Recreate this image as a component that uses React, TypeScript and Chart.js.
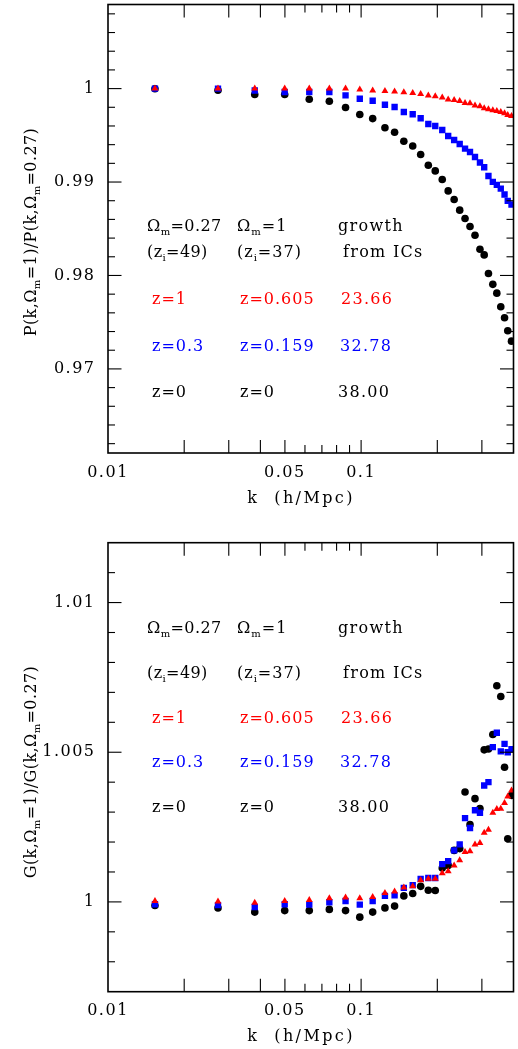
import React, { useEffect, useRef } from 'react';
import { Chart, registerables } from 'chart.js';

Chart.register(...registerables);

// ---------- data ----------
const kBins = [0.01533, 0.0272, 0.038, 0.0499, 0.0624, 0.0749, 0.0868, 0.0988, 0.1111, 0.1242, 0.1356, 0.1475, 0.1599, 0.1719, 0.1843, 0.1963, 0.2092, 0.2208, 0.2331, 0.2452, 0.2574, 0.2693, 0.2818, 0.2948, 0.3064, 0.3185, 0.3314, 0.3437, 0.3563, 0.3687, 0.3796, 0.3928];

// P(k) ratio, top panel
const pRatioZ1 = [1.0, 1.0, 1.0, 1.0, 1.0, 1.0, 1.0, 0.9999, 0.9998, 0.99975, 0.9997, 0.9996, 0.99954, 0.99943, 0.99926, 0.99918, 0.99904, 0.99883, 0.99879, 0.99868, 0.99847, 0.99843, 0.99819, 0.99811, 0.9979, 0.99779, 0.99769, 0.99761, 0.9975, 0.99737, 0.99718, 0.99708];
const pRatioZ03 = [1.0, 1.0, 0.9998, 0.99964, 0.99964, 0.99964, 0.99928, 0.99891, 0.9987, 0.99827, 0.99803, 0.9975, 0.99725, 0.99682, 0.99621, 0.996, 0.99557, 0.99493, 0.9945, 0.99407, 0.99358, 0.99321, 0.99268, 0.99209, 0.99158, 0.99065, 0.99001, 0.98969, 0.9893, 0.98866, 0.98799, 0.98759];
const pRatioZ0 = [0.99998, 0.99982, 0.99936, 0.99936, 0.99886, 0.99864, 0.99797, 0.99722, 0.99679, 0.99581, 0.99533, 0.99436, 0.99386, 0.99294, 0.9918, 0.99119, 0.99027, 0.98905, 0.98813, 0.98699, 0.9861, 0.98524, 0.98431, 0.98281, 0.9822, 0.98021, 0.97905, 0.97811, 0.97666, 0.97547, 0.97408, 0.97297];

// G(k) ratio, bottom panel
const gRatioZ1 = [1.00003, 1.00001, 0.99997, 1.00003, 1.00006, 1.00012, 1.00015, 1.00012, 1.00016, 1.0003, 1.00035, 1.00048, 1.00052, 1.00072, 1.00077, 1.00077, 1.00096, 1.00102, 1.00122, 1.00139, 1.00167, 1.00169, 1.00192, 1.00197, 1.00231, 1.00241, 1.00298, 1.0031, 1.00311, 1.0033, 1.00352, 1.00372];
const gRatioZ03 = [0.99992, 0.99989, 0.99983, 0.99992, 0.99991, 0.99999, 1.00003, 0.99991, 1.00003, 1.0002, 1.00022, 1.00047, 1.00056, 1.00077, 1.0008, 1.0008, 1.00126, 1.00136, 1.00172, 1.00192, 1.0028, 1.00247, 1.00306, 1.00298, 1.00389, 1.004, 1.00517, 1.00565, 1.00503, 1.00528, 1.005, 1.0051];
const gRatioZ0 = [0.99988, 0.9998, 0.99966, 0.99971, 0.99971, 0.99975, 0.99971, 0.99949, 0.99966, 0.9998, 0.99986, 1.0002, 1.00028, 1.00052, 1.00039, 1.00038, 1.00113, 1.00122, 1.00172, 1.00178, 1.00367, 1.00258, 1.00345, 1.00312, 1.00508, 1.00511, 1.00559, 1.00722, 1.00686, 1.0045, 1.00211, 1.00356];

// ticks
const xLabelValues = [0.01, 0.05, 0.1];
const xLabelTexts = ['0.01', '0.05', '0.1'];
const xMajorTicks = [0.02, 0.03, 0.04, 0.05, 0.1, 0.2, 0.3];
const xMinorTicks = [0.06, 0.07, 0.08, 0.09];

const pYLabelValues = [0.97, 0.98, 0.99, 1];
const pYLabelTexts = ['0.97', '0.98', '0.99', '1'];
const pYMinorTicks = [0.962, 0.964, 0.966, 0.968, 0.972, 0.974, 0.976, 0.978, 0.982, 0.984, 0.986, 0.988, 0.992, 0.994, 0.996, 0.998, 1.002, 1.004, 1.006, 1.008];

const gYLabelValues = [1, 1.005, 1.01];
const gYLabelTexts = ['1', '1.005', '1.01'];
const gYMinorTicks = [0.998, 0.999, 1.001, 1.002, 1.003, 1.004, 1.006, 1.007, 1.008, 1.009, 1.011];

// annotation table
const colOmega = ['Ω_{m}=0.27', '(z_{i}=49)', 'z=1', 'z=0.3', 'z=0'];
const colEdS = ['Ω_{m}=1', '(z_{i}=37)', 'z=0.605', 'z=0.159', 'z=0'];
const colGrowth = ['growth', 'from ICs', '23.66', '32.78', '38.00'];
const rowColors = ['#000000', '#000000', '#ff0000', '#0000ff', '#000000'];

const FONT = '"DejaVu Serif", serif';

// ---------- helpers ----------
type Seg = { t: string; sub: boolean };
function parseRich(s: string): Seg[] {
  const out: Seg[] = [];
  const re = /_\{([^}]*)\}/g;
  let last = 0;
  let m: RegExpExecArray | null;
  while ((m = re.exec(s))) {
    if (m.index > last) out.push({ t: s.slice(last, m.index), sub: false });
    out.push({ t: m[1], sub: true });
    last = re.lastIndex;
  }
  if (last < s.length) out.push({ t: s.slice(last), sub: false });
  return out;
}

function drawRich(ctx: any, s: string, x: number, y: number, align: string, size: number, spacing: number) {
  const segs = parseRich(s);
  const mainF = `${size}px ${FONT}`;
  const subF = `${Math.round(size * 0.62)}px ${FONT}`;
  ctx.letterSpacing = `${spacing}px`;
  let w = 0;
  for (const sg of segs) {
    ctx.font = sg.sub ? subF : mainF;
    w += ctx.measureText(sg.t).width;
  }
  let cx = align === 'center' ? x - w / 2 : x;
  ctx.textAlign = 'left';
  ctx.textBaseline = 'alphabetic';
  for (const sg of segs) {
    ctx.font = sg.sub ? subF : mainF;
    ctx.fillText(sg.t, cx, sg.sub ? y + size * 0.28 : y);
    cx += ctx.measureText(sg.t).width;
  }
}

type PanelCfg = {
  height: number;
  padTop: number;
  xHeight: number;
  yMin: number;
  yMax: number;
  yLabelValues: number[];
  yLabelTexts: string[];
  yMinor: number[];
  xPad: number;
  series: number[][];
  yTitle: string;
  yTitleCenter: number;
  xTitleBaseline: number;
  rowBaselines: number[];
};

function makeOverlay(cfg: PanelCfg) {
  return {
    id: 'overlay',
    beforeDraw(chart: any) {
      chart.ctx.letterSpacing = '1.5px';
    },
    afterDraw(chart: any) {
      const ctx = chart.ctx;
      const { left, right, top, bottom } = chart.chartArea;
      const xs = chart.scales.x;
      const ys = chart.scales.y;
      ctx.save();
      ctx.strokeStyle = '#000';
      ctx.lineWidth = 1.1;
      const line = (x1: number, y1: number, x2: number, y2: number) => {
        ctx.beginPath();
        ctx.moveTo(x1, y1);
        ctx.lineTo(x2, y2);
        ctx.stroke();
      };
      const xTick = (v: number, len: number) => {
        const px = xs.getPixelForValue(v);
        line(px, bottom, px, bottom - len);
        line(px, top, px, top + len);
      };
      const yTick = (v: number, len: number) => {
        const py = ys.getPixelForValue(v);
        line(left, py, left + len, py);
        line(right, py, right - len, py);
      };
      xMajorTicks.forEach((v) => xTick(v, 13));
      xMinorTicks.forEach((v) => xTick(v, 8));
      cfg.yLabelValues.forEach((v) => yTick(v, 13.5));
      cfg.yMinor.forEach((v) => yTick(v, 7));
      ctx.lineWidth = 1.6;
      ctx.strokeRect(left, top, right - left, bottom - top);

      // annotation table
      const colAx = [147, 147, 152, 152, 152];
      const colBx = [237, 237, 240, 240, 240];
      const colCx = [338, 343, 341, 340, 338];
      for (let i = 0; i < 5; i++) {
        ctx.fillStyle = rowColors[i];
        const yb = cfg.rowBaselines[i];
        drawRich(ctx, colOmega[i], colAx[i], yb, 'left', 16, i < 2 ? 0.4 : 1.0);
        drawRich(ctx, colEdS[i], colBx[i], yb, 'left', 16, 1.0);
        drawRich(ctx, colGrowth[i], colCx[i], yb, 'left', 16, 1.3);
      }

      // axis titles
      ctx.fillStyle = '#000';
      drawRich(ctx, 'k  (h/Mpc)', 301, cfg.xTitleBaseline, 'center', 16, 2.4);
      ctx.save();
      ctx.translate(36, cfg.yTitleCenter);
      ctx.rotate(-Math.PI / 2);
      drawRich(ctx, cfg.yTitle, 0, 0, 'center', 16, 0.4);
      ctx.restore();
      ctx.restore();
    },
  };
}

function buildChart(canvas: HTMLCanvasElement, cfg: PanelCfg) {
  const [s1, s03, s0] = cfg.series;
  const pts = (arr: number[]) => kBins.map((k, i) => ({ x: k, y: arr[i] }));
  return new Chart(canvas, {
    type: 'scatter',
    data: {
      datasets: [
        { label: 'z=1', data: pts(s1), pointStyle: 'triangle', pointRadius: 4.0, backgroundColor: '#ff0000', borderWidth: 0, clip: 0 } as any,
        { label: 'z=0.3', data: pts(s03), pointStyle: 'rect', pointRadius: 4.5, backgroundColor: '#0000ff', borderWidth: 0, clip: 0 } as any,
        { label: 'z=0', data: pts(s0), pointStyle: 'circle', pointRadius: 3.8, backgroundColor: '#000000', borderWidth: 0, clip: 0 } as any,
      ],
    },
    options: {
      animation: false,
      responsive: false,
      events: [],
      layout: { padding: { left: 0, right: 1.3, top: cfg.padTop, bottom: 0 } },
      plugins: { legend: { display: false }, tooltip: { enabled: false } },
      scales: {
        x: {
          type: 'logarithmic',
          min: 0.01,
          max: 0.4,
          grid: { display: false, drawTicks: false },
          border: { display: false },
          afterFit: (scale: any) => {
            scale.height = cfg.xHeight;
            scale.paddingLeft = 0;
            scale.paddingRight = 0;
          },
          afterBuildTicks: (scale: any) => {
            scale.ticks = xLabelValues.map((v) => ({ value: v }));
          },
          ticks: {
            autoSkip: false,
            maxRotation: 0,
            padding: cfg.xPad,
            color: '#000',
            font: { family: FONT, size: 16 },
            callback: (value: any) => {
              const i = xLabelValues.indexOf(Number(value));
              return i >= 0 ? xLabelTexts[i] : '';
            },
          },
        },
        y: {
          type: 'linear',
          min: cfg.yMin,
          max: cfg.yMax,
          grid: { display: false, drawTicks: false },
          border: { display: false },
          afterFit: (scale: any) => {
            scale.width = 108;
            scale.paddingTop = 0;
            scale.paddingBottom = 0;
          },
          afterBuildTicks: (scale: any) => {
            scale.ticks = cfg.yLabelValues.map((v) => ({ value: v }));
          },
          ticks: {
            autoSkip: false,
            padding: 12.5,
            color: '#000',
            font: { family: FONT, size: 16 },
            callback: (value: any) => {
              const i = cfg.yLabelValues.indexOf(Number(value));
              return i >= 0 ? cfg.yLabelTexts[i] : '';
            },
          },
        },
      },
    } as any,
    plugins: [makeOverlay(cfg)],
  });
}

const topCfg: PanelCfg = {
  height: 520,
  padTop: 4,
  xHeight: 67,
  yMin: 0.961,
  yMax: 1.009,
  yLabelValues: pYLabelValues,
  yLabelTexts: pYLabelTexts,
  yMinor: pYMinorTicks,
  xPad: 10.5,
  series: [pRatioZ1, pRatioZ03, pRatioZ0],
  yTitle: 'P(k,Ω_{m}=1)/P(k,Ω_{m}=0.27)',
  yTitleCenter: 232,
  xTitleBaseline: 503,
  rowBaselines: [231, 257, 304.3, 350.7, 396.7],
};

const botCfg: PanelCfg = {
  height: 529,
  padTop: 22.7,
  xHeight: 57.3,
  yMin: 0.997,
  yMax: 1.012,
  yLabelValues: gYLabelValues,
  yLabelTexts: gYLabelTexts,
  yMinor: gYMinorTicks,
  xPad: 9.2,
  series: [gRatioZ1, gRatioZ03, gRatioZ0],
  yTitle: 'G(k,Ω_{m}=1)/G(k,Ω_{m}=0.27)',
  yTitleCenter: 252,
  xTitleBaseline: 520.5,
  rowBaselines: [113, 158, 203, 247, 292],
};

function Panel({ cfg, top }: { cfg: PanelCfg; top: number }) {
  const ref = useRef<HTMLCanvasElement | null>(null);
  useEffect(() => {
    if (!ref.current) return;
    const chart = buildChart(ref.current, cfg);
    return () => chart.destroy();
  }, [cfg]);
  return (
    <canvas
      ref={ref}
      width={518}
      height={cfg.height}
      style={{ position: 'absolute', left: 0, top, width: 518, height: cfg.height, display: 'block' }}
    />
  );
}

export default function App() {
  return (
    <div style={{ position: 'absolute', left: 0, top: 0, width: 518, height: 1049, background: '#ffffff', overflow: 'hidden' }}>
      <Panel cfg={topCfg} top={0} />
      <Panel cfg={botCfg} top={520} />
    </div>
  );
}
